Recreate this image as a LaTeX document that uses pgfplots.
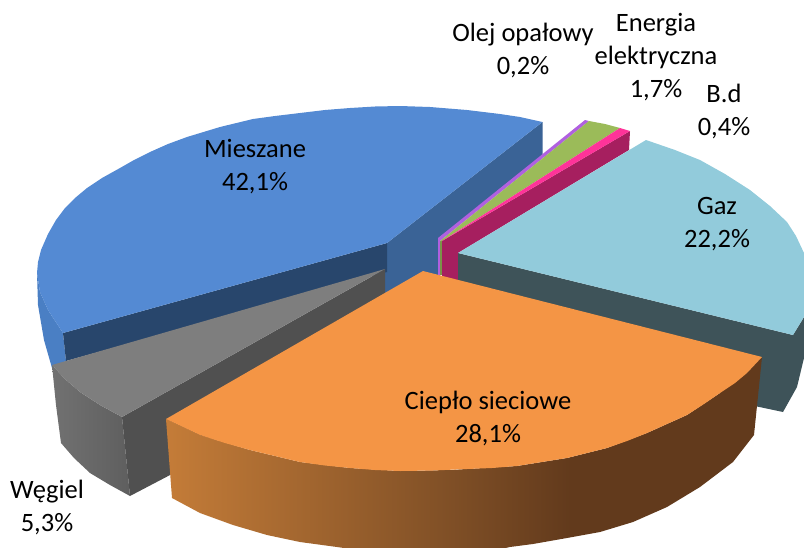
\documentclass[border=0pt]{standalone}
\usepackage{pgfplots}
\pgfplotsset{compat=1.18}
\usepackage{fontspec}
\setmainfont{Carlito}
\definecolor{bluetop}{HTML}{548AD3}
\definecolor{bluewall}{HTML}{3A6396}
\definecolor{bluedark}{HTML}{28466C}
\definecolor{blueouter}{HTML}{4A7FC4}
\definecolor{graytop}{HTML}{7E7E7E}
\definecolor{graydark}{HTML}{505050}
\definecolor{orangetop}{HTML}{F49545}
\definecolor{gaztop}{HTML}{92CBDB}
\definecolor{gazwall}{HTML}{3E5359}
\definecolor{pinktop}{HTML}{FF3399}
\definecolor{pinkwall}{HTML}{A61F5F}
\definecolor{greentop}{HTML}{9BBB59}
\definecolor{greenwall}{HTML}{7A9448}
\definecolor{purpletop}{HTML}{B060E0}
\definecolor{owa}{HTML}{C47C38}
\definecolor{owb}{HTML}{7F4F26}
\definecolor{owc}{HTML}{623A1C}
\pgfdeclarehorizontalshading{orangewall}{100bp}{color(0bp)=(owa); color(25bp)=(owa); color(49bp)=(owb); color(59bp)=(owc); color(100bp)=(owc)}
\newcommand{\poly}[2]{\addplot[draw=none,fill=#1,forget plot] coordinates {#2};}
\newcommand{\lab}[3]{\node[align=center,font=\fontsize{26.5}{26.5}\selectfont,inner sep=0pt,anchor=center] at (axis cs:#1,#2) {#3};}
\begin{document}
\begin{tikzpicture}
\useasboundingbox (0,0) rectangle (804pt,547pt);
\begin{axis}[
  at={(0,0)}, anchor=south west,
  scale only axis, width=804pt, height=547pt,
  xmin=0, xmax=804, ymin=0, ymax=547, y dir=reverse,
  axis lines=none, clip=true]
% Mieszane
\poly{blueouter}{(37,273)(40,292)(48,310)(63,333)(66,361)(52,368)(44,340)(38,305)}
\poly{bluewall}{(387,243)(542.5,122)(542.5,158)(440,238)(440,330)(385,330)(385,270)}
\poly{bluedark}{(387,243)(63,333)(66,361)(387,272)}
\poly{bluetop}{(387,243)(542.5,122)(520,117)(500,114)(467,110)(430,107)(400,106)(375,106.5)(350,108)(325,110)(300,113)(275,116)(253,119)(220,127)(187,137)(168,144)(150,152)(134,160)(120,168)(102,178)(87,188)(75,198)(65,208)(56,220)(48,234)(41,250)(38,262)(37,273)(40,292)(48,310)(63,333)}
% Olej opalowy, energia, b.d
\poly{purpletop}{(438,238)(585,120)(589,121)(440,241)(440,275)(438,275)}
\poly{greenwall}{(440,241)(442,241)(442,275)(440,275)}
\poly{greentop}{(440,241)(589,121)(605,124)(620,128)(442,241)}
\poly{pinkwall}{(442,241)(630,131)(629,150)(458,253)(458,285)(442,280)}
\poly{pinktop}{(442,241)(620,128)(630,131)}
% Gaz
\poly{gazwall}{(458,253)(793,335)(804,317)(804,358)(797,387)(783,412)(750,405)(458,285)}
\poly{gaztop}{(458,253)(646,140)(675,150)(700,160)(725,174)(750,190)(770,206)(787,222)(796,236)(804,253)(810,260)(810,300)(804,317)(793,335)}
% Wegiel
\addplot[draw=none,left color=graytop!90!black,right color=graytop!75!black,forget plot] coordinates {(52,365)(65,379)(80,392)(100,405)(122,417)(130,496)(110,485)(90,473)(74,458)(61,443)(56,405)};
\poly{graydark}{(385,269)(122,417)(130,496)(172,474)(385,300)}
\poly{graytop}{(385,269)(52,365)(65,379)(80,392)(100,405)(122,417)}
% Cieplo sieciowe
\addplot[draw=none,shade,shading=orangewall,forget plot] coordinates {(166,419)(200,435)(250,450)(300,462)(350,468)(400,471)(450,470)(517,466)(567,458)(607,448)(647,433)(687,415)(720,393)(747,373)(762,357)(754,435)(733,462)(700,487)(667,507)(633,522)(600,532)(567,538)(533,544)(510,547)(470,556)(400,556)(337,547)(300,542)(267,535)(233,525)(200,513)(172,498)};
\poly{orangetop}{(423,271)(762,357)(747,373)(735,383)(720,393)(704,404)(687,415)(667,424)(647,433)(627,441)(607,448)(587,453)(567,458)(542,462)(517,466)(492,468)(467,469)(433,470.5)(400,471)(375,470)(350,468)(325,465.5)(300,462)(275,456)(250,450)(225,443)(200,435)(183,427)(166,419)}
\lab{255}{167}{Mieszane\\[6.5pt]42,1\%}
\lab{717}{224}{Gaz\\[6.5pt]22,2\%}
\lab{488}{418}{Ciepło sieciowe\\[6.5pt]28,1\%}
\lab{47}{507}{Węgiel\\[6.5pt]5,3\%}
\lab{523}{50}{Olej opałowy\\[6.5pt]0,2\%}
\lab{656}{57}{Energia\\[6.5pt]elektryczna\\[6.5pt]1,7\%}
\lab{724}{111}{B.d\\[6.5pt]0,4\%}
\end{axis}
\end{tikzpicture}
\end{document}
